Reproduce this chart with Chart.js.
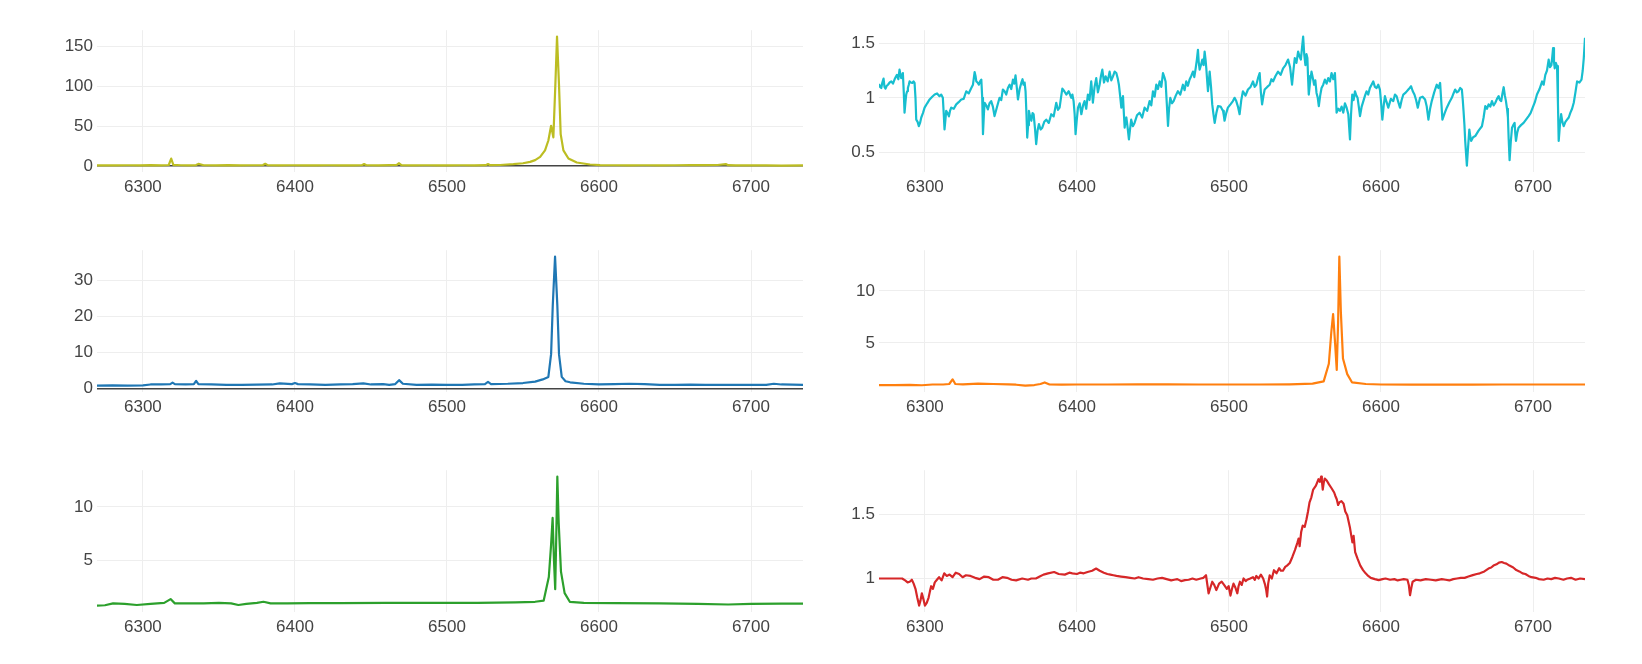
<!DOCTYPE html>
<html>
<head>
<meta charset="utf-8">
<script src="https://cdn.jsdelivr.net/npm/chart.js@4.4.1/dist/chart.umd.min.js"></script>
<style>
  html, body { margin: 0; padding: 0; background: #ffffff; }
  #wrap { position: relative; width: 1642px; height: 664px; overflow: hidden; background: #fff; }
  canvas { position: absolute; }
  #warn { position: absolute; left: 10px; top: 640px; color: red; font: 12px sans-serif; }
</style>
</head>
<body>
<div id="wrap"></div>
<div id="warn"></div>
<script>
// ---------- axis ticks ----------
const xTickValues = [6300, 6400, 6500, 6600, 6700];
const xMin = 6269.8;
const xMax = 6734.2;

// ---------- panel 1 (olive) ----------
const wlOlive = [6269.8, 6275, 6282, 6290, 6298, 6305, 6312, 6317, 6318.6, 6320, 6325, 6330, 6335, 6336.5, 6340, 6348, 6356, 6364, 6372, 6379, 6380.5, 6382, 6390, 6398, 6406, 6414, 6422, 6430, 6438, 6444, 6445.5, 6447, 6455, 6462, 6467, 6468.5, 6470, 6478, 6486, 6494, 6502, 6510, 6518, 6525.5, 6527, 6528.5, 6535, 6543.7, 6550, 6554.7, 6558, 6561.3, 6564.5, 6566.7, 6568.5, 6570, 6571.3, 6572.4, 6573.7, 6574.8, 6576.6, 6579.9, 6585.4, 6594.1, 6600.7, 6610, 6620, 6630, 6640, 6650, 6660, 6670, 6678, 6683.4, 6685, 6690, 6700, 6710, 6720, 6734.2];
const fluxOlive = [0.8, 1.0, 0.9, 1.1, 1.0, 1.2, 1.0, 1.4, 9.5, 1.6, 1.1, 1.0, 1.3, 2.8, 1.1, 1.0, 1.2, 0.9, 1.1, 1.3, 2.9, 1.2, 1.0, 1.1, 0.9, 1.0, 1.1, 0.9, 1.0, 1.2, 2.6, 1.1, 1.0, 1.2, 1.4, 3.6, 1.3, 1.0, 1.1, 0.9, 1.0, 1.1, 1.0, 1.2, 2.5, 1.2, 1.4, 2.5, 3.6, 5.3, 7.5, 11.5, 19.7, 32, 50.4, 36, 101.6, 161.8, 101.6, 40, 19.7, 9.5, 4.5, 2, 1.2, 1.1, 1.0, 1.1, 1.0, 1.1, 1.2, 1.3, 1.4, 2.6, 1.2, 0.9, 0.8, 0.8, 0.7, 0.8];
const yTicksOlive = [0, 50, 100, 150];

// ---------- panel 2 (cyan) ----------
const wlCyan = [
6269.8, 6270.5, 6271.3, 6272, 6272.8, 6273.4, 6274.1, 6274.9, 6275.7, 6276.8,
6277.9, 6279, 6280, 6280.8, 6281.6, 6282.5, 6283.3, 6284.4, 6285.5, 6286.1,
6286.6, 6287.2, 6287.7, 6288.3, 6288.8, 6289.4, 6289.9, 6290.8, 6291.7, 6292.5,
6293.2, 6293.8, 6294.3, 6295.2, 6296, 6296.8, 6297.6, 6298.7, 6299.8, 6301.5,
6303.1, 6304.8, 6306.4, 6308, 6309.6, 6310.7, 6311.8, 6312.4, 6312.9, 6313.5,
6314, 6314.9, 6315.8, 6316.5, 6317.3, 6319, 6320.6, 6322.2, 6323.9, 6325.5,
6327.2, 6328.8, 6330.5, 6331.6, 6332.7, 6333.3, 6333.8, 6334.6, 6335.5, 6336.3,
6337.1, 6337.7, 6338.2, 6338.8, 6339.3, 6340.4, 6341.4, 6342.5, 6343.6, 6344.7,
6345.8, 6347.5, 6349.1, 6350.2, 6351.3, 6352.4, 6353.5, 6354.6, 6355.7, 6356.8,
6357.9, 6358.8, 6359.6, 6360.4, 6361.2, 6362.3, 6363.4, 6364.2, 6364.9, 6365.6,
6366.2, 6366.8, 6367.3, 6367.9, 6368.4, 6369.2, 6370, 6370.8, 6371.5, 6372.4,
6373.2, 6374.1, 6375, 6376.1, 6377.2, 6378.5, 6379.8, 6381.5, 6383.1, 6384.7,
6386.4, 6387.5, 6388.6, 6389.5, 6390.4, 6391.7, 6393, 6394.6, 6396.3, 6397,
6397.8, 6398.5, 6399.1, 6399.9, 6400.7, 6401.8, 6402.9, 6404, 6405, 6406.1,
6407.2, 6408.3, 6409.4, 6410, 6410.5, 6411.6, 6412.7, 6413.8, 6414.9, 6415.8,
6416.7, 6417.8, 6418.9, 6420.2, 6421.5, 6422.6, 6423.7, 6424.8, 6425.9, 6426.8,
6427.6, 6428.4, 6429.2, 6429.8, 6430.3, 6430.9, 6431.4, 6432, 6432.5, 6433.4,
6434.2, 6435, 6435.7, 6436.8, 6437.9, 6439.5, 6441.2, 6442.9, 6444.5, 6446.2,
6447.8, 6448.9, 6450, 6451.1, 6452.2, 6453.3, 6454.4, 6455.5, 6456.6, 6457.5,
6458.3, 6459.1, 6459.9, 6460.6, 6461.4, 6462.5, 6463.6, 6465, 6466.4, 6468,
6469.7, 6470.8, 6471.9, 6473, 6474.1, 6475.2, 6476.3, 6477.2, 6478.1, 6478.9,
6479.6, 6480.1, 6480.7, 6481.6, 6482.5, 6483.3, 6484, 6484.6, 6485.1, 6485.7,
6486.2, 6486.8, 6487.3, 6488.2, 6489, 6489.8, 6490.6, 6491.7, 6492.8, 6494.5,
6496.1, 6496.6, 6497.1, 6498.2, 6499.3, 6501, 6502.6, 6503.7, 6504.8, 6505.9,
6507, 6508.1, 6509.2, 6510.9, 6512.5, 6514.2, 6515.8, 6516.9, 6518, 6519.1,
6520.2, 6521, 6521.8, 6522.7, 6523.5, 6525.2, 6526.8, 6527.9, 6529, 6530.6,
6532.3, 6534, 6535.6, 6537.2, 6538.9, 6540.2, 6541.5, 6542.4, 6543.3, 6544.4,
6545.5, 6546.4, 6547.3, 6548, 6548.8, 6549.5, 6550.3, 6551, 6551.6, 6552,
6552.5, 6553.4, 6554.3, 6555.2, 6556, 6556.8, 6557.6, 6558.4, 6559.1, 6560,
6560.9, 6562, 6563.1, 6564.2, 6565.3, 6566.4, 6567.5, 6568.6, 6569.7, 6570.3,
6570.8, 6571.9, 6573, 6574.1, 6575.2, 6576.3, 6577.4, 6578.5, 6579.6, 6580.3,
6581.1, 6582, 6582.9, 6583.8, 6584.6, 6585.4, 6586.2, 6587.3, 6588.4, 6589.5,
6590.5, 6591.6, 6592.7, 6593.8, 6594.9, 6596, 6597.1, 6598.2, 6599.3, 6600.1,
6600.9, 6601.8, 6602.6, 6603.7, 6604.8, 6606.5, 6608.1, 6609.2, 6610.3, 6611.4,
6612.5, 6613.6, 6614.7, 6616.4, 6618, 6618.9, 6619.8, 6620.9, 6622, 6623.1,
6624.2, 6625, 6625.7, 6627.4, 6629, 6630.1, 6631.2, 6632.3, 6633.4, 6635,
6636.7, 6637.8, 6638.9, 6639.6, 6640.4, 6641.9, 6643.3, 6645, 6646.6, 6647.7,
6648.8, 6649.9, 6651, 6652.1, 6653.2, 6653.8, 6654.3, 6654.9, 6655.4, 6656,
6656.5, 6657.3, 6658.1, 6658.7, 6659.3, 6660.6, 6662, 6664.2, 6666.4, 6667.5,
6668.6, 6669.7, 6670.8, 6671.9, 6673, 6674.1, 6675.2, 6676.3, 6677.4, 6678.2,
6679.1, 6679.9, 6680.7, 6681.5, 6682.2, 6682.9, 6683.5, 6684, 6684.6, 6685.4,
6686.2, 6687, 6687.9, 6688.3, 6688.8, 6689.6, 6690.5, 6692.1, 6693.8, 6695.4,
6697.1, 6698.4, 6699.8, 6701.2, 6702.6, 6704.3, 6706, 6707, 6708.1, 6709.2,
6710.3, 6711.2, 6712.1, 6712.7, 6713.2, 6713.8, 6714.3, 6715, 6715.8, 6716.4,
6716.9, 6717.7, 6718.5, 6719.3, 6720.2, 6721.3, 6722.4, 6723.5, 6724.6, 6725.7,
6726.8, 6727.9, 6729, 6730.5, 6731.9, 6732.7, 6733.4, 6734.2];
const fluxCyan = [
1.127, 1.10, 1.09, 1.14, 1.176, 1.10, 1.085, 1.11, 1.12, 1.14,
1.15, 1.13, 1.167, 1.19, 1.21, 1.17, 1.258, 1.18, 1.227, 1.05,
0.864, 0.96, 1.03, 1.06, 1.09, 1.12, 1.15, 1.14, 1.136, 1.15,
1.136, 1.0, 0.80, 0.78, 0.74, 0.77, 0.82, 0.86, 0.91, 0.95,
0.985, 1.01, 1.03, 1.04, 1.015, 1.03, 1.0, 0.85, 0.71, 0.80,
0.88, 0.86, 0.83, 0.88, 0.91, 0.90, 0.94, 0.96, 0.985, 0.99,
1.06, 1.04, 1.09, 1.12, 1.236, 1.20, 1.15, 1.14, 1.12, 1.15,
1.167, 1.0, 0.667, 0.85, 0.955, 0.93, 0.894, 0.95, 0.97, 0.92,
0.833, 0.92, 1.0, 0.98, 1.076, 1.06, 1.03, 1.09, 1.12, 1.08,
1.167, 1.13, 1.206, 1.10, 0.985, 1.08, 1.136, 1.17, 1.12, 1.14,
1.06, 0.85, 0.636, 0.75, 0.88, 0.83, 0.79, 0.86, 0.85, 0.72,
0.576, 0.70, 0.76, 0.71, 0.727, 0.78, 0.80, 0.77, 0.85, 0.83,
0.955, 0.89, 0.91, 1.0, 1.085, 1.06, 1.03, 1.06, 1.0, 1.03,
0.97, 0.85, 0.667, 0.80, 0.91, 0.95, 0.85, 0.93, 0.97, 0.90,
1.03, 0.98, 1.15, 1.05, 0.955, 1.10, 1.18, 1.05, 1.12, 1.20,
1.258, 1.14, 1.197, 1.15, 1.24, 1.16, 1.197, 1.24, 1.227, 1.18,
1.12, 1.02, 0.91, 1.0, 1.015, 0.85, 0.727, 0.80, 0.82, 0.72,
0.62, 0.72, 0.80, 0.74, 0.77, 0.84, 0.864, 0.82, 0.91, 0.88,
0.97, 0.93, 1.06, 1.01, 1.12, 1.08, 1.15, 1.10, 1.227, 1.19,
1.15, 0.95, 0.742, 0.90, 1.0, 0.95, 0.97, 1.02, 1.06, 1.03,
1.12, 1.07, 1.15, 1.11, 1.167, 1.20, 1.24, 1.19, 1.27, 1.35,
1.44, 1.33, 1.258, 1.30, 1.35, 1.30, 1.424, 1.35, 1.27, 1.15,
1.06, 1.15, 1.24, 1.10, 0.94, 0.85, 0.77, 0.86, 0.924, 0.92,
0.88, 0.84, 0.79, 0.86, 0.91, 0.94, 0.97, 1.0, 0.97, 0.92,
0.85, 0.98, 1.06, 1.02, 1.076, 1.10, 1.15, 1.10, 1.12, 1.18,
1.227, 1.05, 0.94, 1.02, 1.076, 1.10, 1.12, 1.17, 1.15, 1.20,
1.24, 1.21, 1.27, 1.30, 1.35, 1.28, 1.12, 1.25, 1.364, 1.32,
1.424, 1.38, 1.35, 1.45, 1.56, 1.40, 1.30, 1.40, 1.364, 1.20,
1.03, 1.15, 1.24, 1.18, 1.12, 1.16, 1.045, 1.00, 0.924, 1.02,
1.09, 1.12, 1.167, 1.13, 1.18, 1.15, 1.227, 1.17, 1.227, 1.05,
0.864, 0.90, 0.88, 0.92, 0.864, 0.95, 0.91, 0.85, 0.62, 0.85,
1.03, 0.98, 1.06, 1.02, 1.0, 0.92, 0.833, 0.92, 0.97, 1.02,
1.06, 1.03, 1.09, 1.12, 1.15, 1.10, 1.09, 1.12, 1.076, 0.95,
0.80, 0.93, 1.015, 0.96, 0.91, 0.99, 0.97, 1.03, 1.015, 0.96,
0.91, 0.98, 1.03, 1.05, 1.076, 1.09, 1.106, 1.06, 1.03, 0.98,
0.91, 0.96, 1.0, 1.01, 0.985, 0.92, 0.80, 0.90, 0.97, 1.05,
1.12, 1.09, 1.136, 0.98, 0.80, 0.86, 0.91, 0.96, 1.0, 1.04,
1.076, 1.05, 1.06, 1.09, 1.076, 0.98, 0.88, 0.75, 0.606, 0.48,
0.38, 0.55, 0.71, 0.65, 0.606, 0.64, 0.65, 0.70, 0.74, 0.82,
0.924, 0.90, 0.94, 0.92, 0.97, 0.93, 0.955, 0.99, 1.015, 0.98,
0.97, 1.04, 1.097, 1.02, 0.97, 0.90, 0.82, 0.62, 0.43, 0.60,
0.727, 0.75, 0.77, 0.68, 0.606, 0.68, 0.727, 0.75, 0.77, 0.80,
0.833, 0.86, 0.91, 0.96, 1.03, 1.08, 1.15, 1.12, 1.21, 1.25,
1.35, 1.28, 1.30, 1.38, 1.455, 1.33, 1.27, 1.32, 1.29, 0.95,
0.606, 0.75, 0.85, 0.78, 0.74, 0.78, 0.80, 0.82, 0.864, 0.90,
0.955, 1.05, 1.15, 1.14, 1.167, 1.25, 1.364, 1.55];
const yTicksCyan = [0.5, 1, 1.5];

// ---------- panel 3 (blue) ----------
const wlBlue = [6269.8, 6280, 6290, 6300, 6305, 6312, 6318, 6319.5, 6321, 6328, 6333.5, 6335, 6336.5, 6345, 6355, 6365, 6375, 6385, 6390, 6398, 6400, 6402, 6410, 6420, 6430, 6438, 6445, 6450, 6458, 6462, 6466, 6468.5, 6471, 6480, 6490, 6500, 6510, 6518, 6525, 6527, 6529, 6540, 6550, 6558, 6563, 6566.7, 6568.5, 6569.6, 6571.1, 6572.6, 6573.7, 6575.5, 6578, 6581, 6590, 6600, 6610, 6620, 6630, 6640, 6650, 6660, 6670, 6680, 6690, 6700, 6710, 6715, 6720, 6734.2];
const fluxBlue = [0.8, 0.85, 0.8, 0.85, 1.1, 1.15, 1.2, 1.6, 1.2, 1.1, 1.2, 2.1, 1.2, 1.1, 1.0, 1.0, 1.05, 1.1, 1.4, 1.2, 1.5, 1.2, 1.1, 1.0, 1.1, 1.2, 1.4, 1.1, 1.2, 1.0, 1.2, 2.3, 1.3, 1.0, 1.05, 1.0, 1.0, 1.1, 1.2, 1.8, 1.2, 1.3, 1.5, 1.9, 2.5, 3.2, 9.5, 23, 36.5, 23, 9.5, 3.2, 2.0, 1.7, 1.3, 1.1, 1.2, 1.3, 1.2, 1.0, 1.0, 1.05, 1.0, 1.0, 1.0, 1.0, 1.0, 1.3, 1.1, 1.0];
const yTicksBlue = [0, 10, 20, 30];

// ---------- panel 4 (orange) ----------
const wlOrange = [6269.8, 6280, 6290, 6298, 6305, 6312, 6316, 6318.2, 6320, 6325, 6335, 6345, 6355, 6360, 6366, 6372, 6376, 6378.8, 6382, 6390, 6400, 6420, 6440, 6460, 6480, 6500, 6520, 6540, 6555, 6562.3, 6565.7, 6567.3, 6568.5, 6569.8, 6570.9, 6571.8, 6572.6, 6573.6, 6575, 6577.8, 6581, 6590, 6600, 6620, 6640, 6660, 6680, 6700, 6720, 6734.2];
const fluxOrange = [0.95, 0.95, 0.96, 0.93, 1.0, 1.0, 1.05, 1.5, 1.05, 1.02, 1.08, 1.05, 1.02, 0.98, 0.9, 0.95, 1.05, 1.2, 1.0, 0.98, 1.0, 1.0, 1.02, 1.02, 1.0, 1.0, 1.0, 1.02, 1.08, 1.3, 3.0, 6.0, 7.78, 5.0, 2.4, 7.0, 13.3, 8.0, 3.5, 2.0, 1.2, 1.05, 1.0, 0.98, 0.98, 0.98, 1.0, 1.0, 1.0, 1.0];
const yTicksOrange = [5, 10];

// ---------- panel 5 (green) ----------
const wlGreen = [6269.8, 6275, 6280.4, 6288, 6296, 6305, 6314, 6318.2, 6321, 6330, 6340, 6350, 6358, 6362.8, 6368, 6375, 6379.3, 6384, 6395, 6410, 6430, 6460, 6490, 6520, 6545, 6558, 6563.6, 6567, 6568.5, 6569.5, 6570.4, 6571.2, 6572, 6572.6, 6573.5, 6575, 6577.4, 6580.8, 6590, 6610, 6640, 6665, 6685, 6700, 6720, 6734.2];
const fluxGreen = [0.85, 0.88, 1.05, 1.0, 0.9, 1.0, 1.1, 1.45, 1.05, 1.05, 1.05, 1.1, 1.05, 0.9, 1.0, 1.1, 1.2, 1.05, 1.05, 1.08, 1.08, 1.1, 1.1, 1.1, 1.15, 1.2, 1.3, 3.5, 6.5, 8.97, 5.0, 2.36, 8.0, 12.8, 8.5, 4.0, 2.0, 1.2, 1.1, 1.08, 1.05, 1.0, 0.95, 1.0, 1.02, 1.02];
const yTicksGreen = [5, 10];

// ---------- panel 6 (red) ----------
const wlRed = [
6269.8, 6275, 6280, 6285, 6287, 6288.6, 6290, 6291.4, 6292.6, 6293.8,
6295, 6296.2, 6297.1, 6298, 6299, 6300, 6301.2, 6302.4, 6303.3, 6304.1,
6305.3, 6306.5, 6307.9, 6309.3, 6311, 6312.7, 6314.4, 6316.2, 6318.2, 6320.3,
6322.5, 6324.8, 6327, 6330, 6333, 6336, 6339, 6342, 6345, 6348,
6351, 6354, 6357, 6360, 6364, 6367.8, 6370, 6373, 6375.5, 6378,
6381, 6385, 6388, 6392, 6395, 6397, 6400, 6402, 6404.5, 6407,
6410, 6412.6, 6415, 6417.7, 6420, 6422, 6424, 6426, 6429, 6432,
6435, 6438, 6440.5, 6443.5, 6447, 6450, 6453, 6456, 6459, 6462,
6464, 6466, 6468.5, 6471, 6473.5, 6476, 6478.5, 6481.4, 6483.2, 6484.9,
6485.8, 6486.6, 6487.8, 6489, 6490.3, 6491.7, 6493.5, 6495.2, 6496.8, 6498.6,
6499.8, 6501, 6502, 6503, 6504.2, 6505.5, 6506.3, 6507.2, 6508.4, 6509.6,
6511, 6512, 6514, 6515.8, 6517, 6518, 6519.5, 6521, 6522.5, 6523.8,
6524.5, 6525.1, 6525.8, 6526.8, 6528.2, 6529.6, 6531.3, 6533, 6534.2, 6535.5,
6537, 6538.2, 6540, 6541.7, 6543.4, 6545.1, 6545.8, 6546.5, 6547.5, 6548.5,
6549.8, 6551, 6552, 6553, 6554.2, 6555.4, 6557.2, 6558.9, 6559.8, 6560.6,
6561.1, 6561.7, 6562.3, 6563, 6564.3, 6565.8, 6567.5, 6569.2, 6570, 6570.9,
6571.8, 6572.6, 6574, 6575.4, 6576.5, 6577.8, 6579.5, 6581.2, 6582, 6583,
6584.7, 6586.4, 6588.2, 6589.9, 6591.6, 6593.3, 6596, 6598.5, 6601, 6603,
6606, 6608.8, 6611, 6613, 6615, 6617.4, 6618.3, 6619.1, 6620, 6620.8,
6623, 6626, 6629.5, 6632.9, 6636, 6640, 6642.5, 6645, 6647.5, 6650,
6652.5, 6655, 6657.5, 6660.4, 6663, 6665, 6668, 6670.7, 6672.5, 6674,
6676, 6677.6, 6679.4, 6681, 6682.5, 6684.5, 6687, 6689, 6691, 6693.1,
6695, 6697, 6699, 6701.7, 6704, 6707, 6709.5, 6712, 6714.5, 6717,
6720, 6722.4, 6725, 6728, 6731, 6734.2];
const fluxRed = [
1.0, 1.0, 1.0, 1.0, 0.985, 0.97, 0.975, 0.99, 0.96, 0.92,
0.85, 0.79, 0.83, 0.885, 0.84, 0.79, 0.81, 0.85, 0.90, 0.94,
0.92, 0.97, 0.99, 1.01, 0.985, 1.04, 1.02, 1.03, 1.01, 1.045,
1.035, 1.01, 1.025, 1.02, 1.005, 0.995, 1.015, 1.01, 0.99, 0.99,
1.01, 1.005, 0.99, 0.985, 1.0, 0.99, 1.0, 1.0, 1.015, 1.03,
1.04, 1.05, 1.035, 1.03, 1.045, 1.04, 1.035, 1.045, 1.04, 1.05,
1.06, 1.077, 1.06, 1.045, 1.035, 1.03, 1.025, 1.02, 1.015, 1.01,
1.005, 1.0, 1.01, 1.0, 0.995, 0.99, 1.0, 1.005, 0.995, 0.985,
0.99, 0.995, 0.98, 0.987, 0.99, 1.0, 0.99, 1.0, 1.005, 1.025,
0.95, 0.885, 0.93, 0.975, 0.95, 0.91, 0.96, 0.975, 0.95, 0.92,
0.94, 0.867, 0.92, 0.96, 0.93, 0.885, 0.94, 0.975, 0.95, 1.0,
0.98, 0.99, 1.0, 1.01, 0.99, 1.02, 1.0, 1.03, 1.0, 0.95,
0.91, 0.86, 0.96, 1.025, 1.0, 1.064, 1.04, 1.08, 1.06, 1.06,
1.09, 1.10, 1.12, 1.167, 1.22, 1.28, 1.31, 1.25, 1.36, 1.41,
1.40, 1.46, 1.52, 1.59, 1.63, 1.69, 1.72, 1.77, 1.75, 1.79,
1.76, 1.69, 1.74, 1.775, 1.76, 1.73, 1.70, 1.667, 1.64, 1.615,
1.57, 1.59, 1.60, 1.58, 1.52, 1.49, 1.40, 1.28, 1.33, 1.205,
1.15, 1.10, 1.065, 1.04, 1.02, 1.005, 0.995, 0.987, 0.995, 1.0,
0.99, 0.995, 0.985, 0.99, 0.995, 0.99, 0.95, 0.87, 0.93, 0.975,
0.99, 0.985, 0.995, 0.99, 0.985, 0.995, 0.99, 0.985, 0.995, 1.0,
1.005, 1.005, 1.015, 1.026, 1.035, 1.04, 1.055, 1.077, 1.085, 1.1,
1.11, 1.123, 1.128, 1.12, 1.115, 1.10, 1.085, 1.065, 1.055, 1.04,
1.035, 1.02, 1.01, 1.005, 0.995, 0.99, 1.0, 0.995, 1.005, 1.0,
0.99, 1.0, 1.005, 0.99, 1.0, 0.995];
const yTicksRed = [1, 1.5];

// ---------- layout ----------
const colLeft = [97, 879];
const rowTop = [28, 248, 468];
const plotW = 706, plotH = 144;
const yAxisW = 70, xAxisH = 36, padTop = 12, padRight = 14;

// y range with 5% padding like the original's autorange
function padRange(arr) {
  const lo = Math.min(...arr), hi = Math.max(...arr);
  const r = hi - lo;
  return [lo - 0.05 * r, hi + 0.05 * r];
}

const panels = [
  { wl: wlOlive,  fl: fluxOlive,  color: '#bcbd22', ticks: yTicksOlive,  col: 0, row: 0 },
  { wl: wlCyan,   fl: fluxCyan,   color: '#17becf', ticks: yTicksCyan,   col: 1, row: 0 },
  { wl: wlBlue,   fl: fluxBlue,   color: '#1f77b4', ticks: yTicksBlue,   col: 0, row: 1 },
  { wl: wlOrange, fl: fluxOrange, color: '#ff7f0e', ticks: yTicksOrange, col: 1, row: 1 },
  { wl: wlGreen,  fl: fluxGreen,  color: '#2ca02c', ticks: yTicksGreen,  col: 0, row: 2 },
  { wl: wlRed,    fl: fluxRed,    color: '#d62728', ticks: yTicksRed,    col: 1, row: 2 }
];

const tickFont = { family: "'Liberation Sans', Arial, sans-serif", size: 17 };
const wrap = document.getElementById('wrap');
const warns = [];

panels.forEach((p, idx) => {
  if (p.wl.length !== p.fl.length) warns.push('panel ' + idx + ' length ' + p.wl.length + '/' + p.fl.length);
  const cv = document.createElement('canvas');
  const cw = yAxisW + plotW + padRight;
  const ch = padTop + plotH + xAxisH;
  cv.width = cw; cv.height = ch;
  cv.style.width = cw + 'px'; cv.style.height = ch + 'px';
  cv.style.left = (colLeft[p.col] - yAxisW) + 'px';
  cv.style.top = (rowTop[p.row] - padTop) + 'px';
  wrap.appendChild(cv);

  const [yMin, yMax] = padRange(p.fl);
  const pts = p.wl.map((x, i) => ({ x: x, y: p.fl[i] }));

  new Chart(cv.getContext('2d'), {
    type: 'line',
    data: { datasets: [{ data: pts, borderColor: p.color, borderWidth: 2.2, pointRadius: 0, tension: 0, fill: false, borderJoinStyle: 'round' }] },
    options: {
      responsive: false, animation: false, events: [],
      devicePixelRatio: 1,
      layout: { padding: { top: padTop, right: padRight, left: 0, bottom: 0 } },
      plugins: { legend: { display: false }, tooltip: { enabled: false } },
      scales: {
        x: {
          type: 'linear', min: xMin, max: xMax,
          afterBuildTicks: s => { s.ticks = xTickValues.map(v => ({ value: v })); },
          afterFit: s => { s.height = xAxisH; },
          grid: { color: '#eeeeee', lineWidth: 1, drawTicks: false },
          border: { display: false },
          ticks: { padding: 5, font: tickFont, color: '#444444', maxRotation: 0, autoSkip: false, callback: v => String(v) }
        },
        y: {
          type: 'linear', min: yMin, max: yMax,
          afterBuildTicks: s => { s.ticks = p.ticks.map(v => ({ value: v })); },
          afterFit: s => { s.width = yAxisW; },
          grid: {
            color: c => (c.tick && c.tick.value === 0) ? '#444444' : '#eeeeee',
            lineWidth: c => (c.tick && c.tick.value === 0) ? 1.5 : 1,
            drawTicks: false
          },
          border: { display: false },
          ticks: { padding: 4, font: tickFont, color: '#444444', autoSkip: false, callback: v => String(v) }
        }
      }
    }
  });
});
document.getElementById('warn').textContent = warns.join('; ');
</script>
</body>
</html>
